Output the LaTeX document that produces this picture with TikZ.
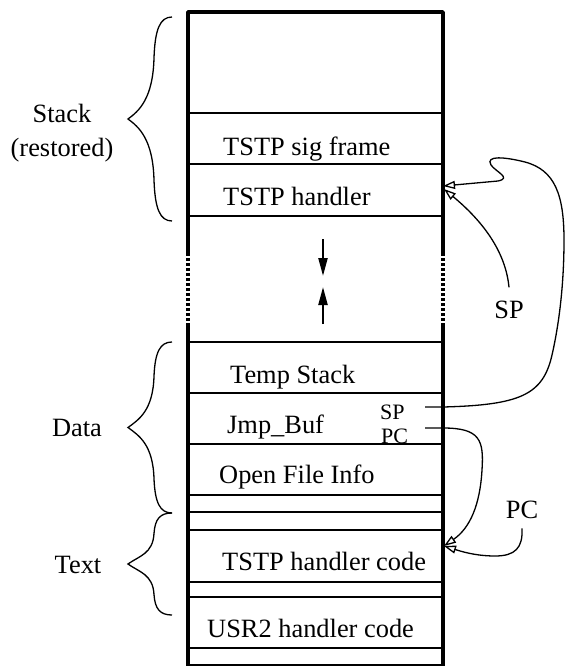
\documentclass[tikz,border=0pt]{standalone}
\usepackage{fontspec}
\setmainfont{Liberation Serif}
\usetikzlibrary{arrows.meta}

% left curly brace spanning #1 (top) to #2 (bottom), tip at x=128
\newcommand\curlybrace[2]{%
  \pgfmathsetmacro\bt{#1}\pgfmathsetmacro\bb{#2}%
  \pgfmathsetmacro\bm{(#1+#2)/2}\pgfmathsetmacro\bh{(#2-#1)/2}%
  \draw[bracestroke] (172,\bt) .. controls (160,\bt) and (155,\bt+0.12*\bh) .. (154,\bt+0.4*\bh)
    .. controls (153,\bm-0.2*\bh) and (139,\bm-8) .. (128,\bm)
    .. controls (139,\bm+8) and (153,\bm+0.2*\bh) .. (154,\bb-0.4*\bh)
    .. controls (155,\bb-0.12*\bh) and (160,\bb) .. (172,\bb);}

\begin{document}
\begin{tikzpicture}[x=1pt,y=-1pt,
  coledge/.style={line width=3.6pt},
  colgap/.style={line width=3.6pt,dash pattern=on 2.8pt off 2.2pt},
  cellsep/.style={line width=1.3pt},
  heavysep/.style={line width=2.6pt},
  bracestroke/.style={line width=1.3pt},
  celltext/.style={font=\fontsize{26.4}{30}\selectfont,inner sep=0pt,anchor=base west},
  sidetext/.style={font=\fontsize{26.4}{30}\selectfont,inner sep=0pt,anchor=base},
  regtext/.style={font=\fontsize{22}{24}\selectfont,inner sep=0pt,anchor=base west},
  pointer/.style={line width=1.3pt,-{Triangle[open,length=12pt,width=8pt]}},
  growarrow/.style={line width=2.2pt,-{Triangle[length=18pt,width=9pt]}}]

\useasboundingbox (0,0) rectangle (565,667);

% memory column
\draw[coledge,line join=round] (188,253) -- (188,12) -- (443,12) -- (443,253);
\draw[colgap] (188,253) -- (188,323);
\draw[colgap] (443,253) -- (443,323);
\draw[coledge] (188,323) -- (188,666);
\draw[coledge] (443,323) -- (443,666);
\draw[cellsep] (188,665) -- (443,665);
\foreach \yy in {113,164,216,342,393,444,495,530,582,597,648}
  \draw[cellsep] (188,\yy) -- (443,\yy);
\draw[heavysep] (188,512) -- (443,512);

% cell contents
\node[celltext] (sigframe) at (223,155) {TSTP sig frame};
\node[celltext] (handler)  at (223,205) {TSTP handler};
\node[celltext] (tmpstack) at (230,383) {Temp Stack};
\node[celltext] (jmpbuf)   at (227,433) {Jmp\_Buf};
\node[celltext] (fileinfo) at (219,483) {Open File Info};
\node[celltext] (tstpcode) at (222,570) {TSTP handler code};
\node[celltext] (usr2code) at (207,637) {USR2 handler code};
\node[regtext] (regsp) at (380,419) {SP};
\node[regtext] (regpc) at (381,443) {PC};

% growth arrows in the free gap
\coordinate (downtail) at (323,239);
\coordinate (downhead) at (323,276);
\coordinate (uptail) at (323,324);
\coordinate (uphead) at (323,287);
\draw[growarrow] (downtail) -- (downhead);
\draw[growarrow] (uptail) -- (uphead);

% segment braces and names
\curlybrace{17}{221}
\curlybrace{342}{513}
\curlybrace{513}{615}
\node[sidetext] (stack) at (62,122) {Stack};
\node[sidetext] (restored) at (62,156) {(restored)};
\node[sidetext] (data) at (77,436) {Data};
\node[sidetext] (text) at (78,573) {Text};

% pointers
\coordinate (hdl) at (443,186);
\coordinate (hdlb) at (444,189);
\coordinate (code) at (444,546);
\coordinate (spout) at (425,407);
\coordinate (pcout) at (425,428);
\node[sidetext] (spl) at (509,318) {SP};
\node[sidetext] (pcl) at (522,518) {PC};

\draw[pointer] (spout) -- (443,407)
  .. controls (520,405) and (543,395) .. (552,355)
  .. controls (560,320) and (564,280) .. (564,240)
  .. controls (564,195) and (555,170) .. (525,162)
  .. controls (505,157) and (485,155) .. (491,165)
  .. controls (496,172) and (512,178) .. (498,181)
  -- (hdl);
\draw[pointer] ([yshift=13pt]spl.north) .. controls (505,245) and (474,214) .. (hdlb);
\draw[pointer] (pcout) -- (443,428)
  .. controls (480,428) and (484,440) .. (482,470)
  .. controls (480,505) and (470,528) .. (code);
\draw[pointer] ([yshift=-10pt]pcl.south)
  .. controls (523,548) and (515,556) .. (495,556)
  .. controls (475,556) and (460,551) .. (code);
\end{tikzpicture}
\end{document}
